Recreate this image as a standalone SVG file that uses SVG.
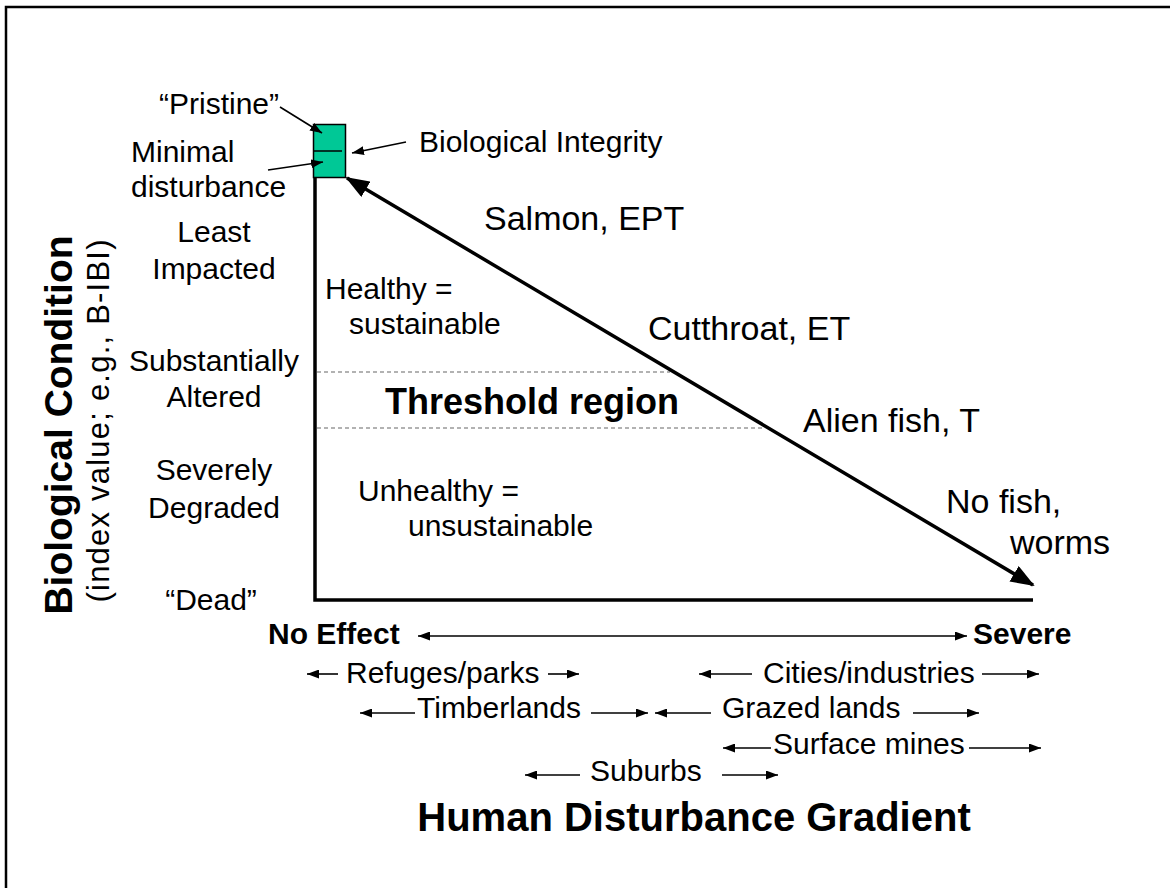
<svg xmlns="http://www.w3.org/2000/svg" width="1170" height="888" viewBox="0 0 1170 888">
  <defs>
    <marker id="tip" viewBox="0 0 12 9" refX="12" refY="4.5" markerWidth="12" markerHeight="9" markerUnits="userSpaceOnUse" orient="auto-start-reverse">
      <path d="M0,0 L12,4.5 L0,9 Z" fill="#000"/>
    </marker>
    <marker id="bigtip" viewBox="0 0 24 18" refX="22" refY="9" markerWidth="24" markerHeight="18" markerUnits="userSpaceOnUse" orient="auto-start-reverse">
      <path d="M0,0 L24,9 L0,18 Z" fill="#000"/>
    </marker>
    <style>
      text { font-family: "Liberation Sans", Arial, sans-serif; fill: #000; }
      .lbl { font-size: 30px; }
      .mid { text-anchor: middle; }
      .big { font-size: 34px; }
      .bold { font-weight: bold; }
      .thin { stroke: #000; stroke-width: 1.6; fill: none; }
      .axis { stroke: #000; stroke-width: 3.5; fill: none; }
      .dash { stroke: #999; stroke-width: 1.3; stroke-dasharray: 4 3; fill: none; }
    </style>
  </defs>

  <rect width="1170" height="888" fill="#fff"/>
  <!-- frame -->
  <path d="M6,888 V7 H1170" stroke="#000" stroke-width="2.5" fill="none"/>

  <!-- axes -->
  <g id="axes">
    <path class="axis" d="M315,176 V600 H1033"/>
  </g>

  <!-- biological integrity box -->
  <g id="integrity-box">
    <rect x="313.5" y="124.5" width="32" height="53" fill="#00C896" stroke="#000" stroke-width="1.5"/>
    <line x1="313" y1="151" x2="342" y2="151" stroke="#000" stroke-width="1.5"/>
  </g>

  <!-- threshold band -->
  <g id="threshold">
    <line class="dash" x1="317" y1="372" x2="670" y2="372"/>
    <line class="dash" x1="317" y1="428" x2="762" y2="428"/>
    <text class="bold" x="385" y="414" font-size="36">Threshold region</text>
  </g>

  <g id="connectors">
    <line x1="347" y1="178" x2="1033" y2="585" stroke="#000" stroke-width="3.5" marker-start="url(#bigtip)" marker-end="url(#bigtip)"/>
    <line class="thin" x1="280" y1="107" x2="322" y2="133" marker-end="url(#tip)"/>
    <line class="thin" x1="268" y1="170" x2="323" y2="162" marker-end="url(#tip)"/>
    <line class="thin" x1="406" y1="142" x2="352" y2="153" marker-end="url(#tip)"/>
    <line class="thin" x1="418" y1="636" x2="967" y2="636" marker-start="url(#tip)" marker-end="url(#tip)"/>
    <!-- range arrows -->
    <line class="thin" x1="307" y1="674" x2="338" y2="674" marker-start="url(#tip)"/>
    <line class="thin" x1="548" y1="674" x2="579" y2="674" marker-end="url(#tip)"/>
    <line class="thin" x1="699" y1="674" x2="752" y2="674" marker-start="url(#tip)"/>
    <line class="thin" x1="982" y1="674" x2="1039" y2="674" marker-end="url(#tip)"/>
    <line class="thin" x1="360" y1="713" x2="415" y2="713" marker-start="url(#tip)"/>
    <line class="thin" x1="591" y1="713" x2="648" y2="713" marker-end="url(#tip)"/>
    <line class="thin" x1="655" y1="713" x2="711" y2="713" marker-start="url(#tip)"/>
    <line class="thin" x1="913" y1="713" x2="979" y2="713" marker-end="url(#tip)"/>
    <line class="thin" x1="723" y1="748" x2="771" y2="748" marker-start="url(#tip)"/>
    <line class="thin" x1="969" y1="748" x2="1041" y2="748" marker-end="url(#tip)"/>
    <line class="thin" x1="525" y1="775" x2="580" y2="775" marker-start="url(#tip)"/>
    <line class="thin" x1="722" y1="775" x2="778" y2="775" marker-end="url(#tip)"/>
  </g>

  <!-- condition levels -->
  <g id="levels">
    <text class="lbl mid" x="219" y="114">“Pristine”</text>
    <text class="lbl" x="131" y="162">Minimal</text>
    <text class="lbl" x="131" y="197">disturbance</text>
    <text class="lbl mid" x="214" y="242">Least</text>
    <text class="lbl mid" x="214" y="279">Impacted</text>
    <text class="lbl mid" x="214" y="371">Substantially</text>
    <text class="lbl mid" x="214" y="407">Altered</text>
    <text class="lbl mid" x="214" y="480">Severely</text>
    <text class="lbl mid" x="214" y="518">Degraded</text>
    <text class="lbl mid" x="211" y="610">“Dead”</text>
  </g>

  <g id="labels">
    <text class="lbl" x="419" y="152">Biological Integrity</text>
    <text class="big" x="484" y="230">Salmon, EPT</text>
    <text class="big" x="648" y="340">Cutthroat, ET</text>
    <text class="big" x="803" y="432">Alien fish, T</text>
    <text class="big" x="946" y="513">No fish,</text>
    <text class="big" x="1010" y="554">worms</text>
    <text class="lbl" x="325" y="299">Healthy =</text>
    <text class="lbl" x="349" y="334">sustainable</text>
    <text class="lbl" x="358" y="501">Unhealthy =</text>
    <text class="lbl" x="408" y="536">unsustainable</text>
  </g>

  <!-- y axis title -->
  <g id="y-title">
    <text class="bold" transform="translate(72,425) rotate(-90)" text-anchor="middle" font-size="39">Biological Condition</text>
    <text transform="translate(109,421) rotate(-90)" text-anchor="middle" font-size="31" textLength="363" lengthAdjust="spacing">(index value; e.g., B-IBI)</text>
  </g>

  <!-- x axis -->
  <g id="x-axis">
    <text class="bold" x="268" y="644" font-size="30">No Effect</text>
    <text class="bold" x="973" y="644" font-size="30">Severe</text>
    <text class="lbl" x="346" y="683">Refuges/parks</text>
    <text class="lbl" x="763" y="683">Cities/industries</text>
    <text class="lbl" x="417" y="718">Timberlands</text>
    <text class="lbl" x="722" y="718">Grazed lands</text>
    <text class="lbl" x="773" y="754">Surface mines</text>
    <text class="lbl" x="590" y="781">Suburbs</text>
    <text class="bold mid" x="694" y="831" font-size="40">Human Disturbance Gradient</text>
  </g>
</svg>
